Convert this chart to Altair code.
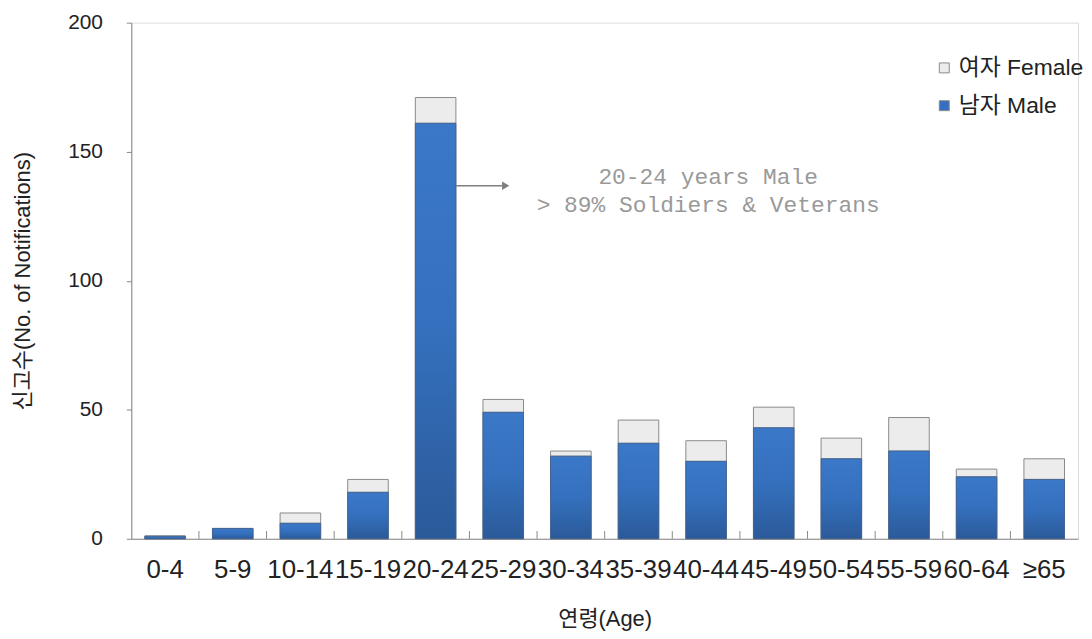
import altair as alt
import pandas as pd

ages = ["0-4", "5-9", "10-14", "15-19", "20-24", "25-29", "30-34", "35-39",
        "40-44", "45-49", "50-54", "55-59", "60-64", "≥65"]
male = [1, 4, 6, 18, 161, 49, 32, 37, 30, 43, 31, 34, 24, 23]
female = [0, 0, 4, 5, 10, 5, 2, 9, 8, 8, 8, 13, 3, 8]
sex_labels = ["여자 Female", "남자 Male"]
y_ticks = [0, 50, 100, 150, 200]
note_lines = ["20-24 years Male", "> 89% Soldiers & Veterans"]
x_title = "연령(Age)"
y_title = "신고수(No. of Notifications)"

rows = []
for a, m, f in zip(ages, male, female):
    rows.append({"age": a, "sex": sex_labels[1], "start": 0, "end": m})
    rows.append({"age": a, "sex": sex_labels[0], "start": m, "end": m + f})
long_df = pd.DataFrame(rows)
male_df = long_df[long_df["sex"] == sex_labels[1]]
tick_df = pd.DataFrame({"age": ages[1:], "lo": 0, "hi": 3})
note_df = pd.DataFrame({"k": [0]})

TXT_FONT = "Liberation Sans, Noto Sans CJK KR"

W, H = 952, 519
STEP = W / 14.0

xscale = alt.Scale(domain=ages, paddingInner=0.4, paddingOuter=0.2)
yscale = alt.Scale(domain=[0, 200])

x_enc = alt.X("age:N", scale=xscale, title=x_title,
              axis=alt.Axis(ticks=False, labelAngle=0, labelOverlap=False,
                            labelFontSize=26, labelFont=TXT_FONT, labelColor="#222",
                            labelPadding=18, titleFont=TXT_FONT, titleFontSize=22,
                            titleFontWeight="normal", titleColor="#222", titlePadding=26,
                            domainColor="#888"))
y_enc = alt.Y("start:Q", scale=yscale, title=y_title,
              axis=alt.Axis(values=y_ticks, grid=False, tickSize=5, tickColor="#888",
                            domainColor="#888", labelFontSize=21, labelFont=TXT_FONT,
                            labelColor="#222", labelPadding=24, titleFont=TXT_FONT,
                            titleFontSize=22, titleFontWeight="normal", titleColor="#222",
                            titlePadding=33))

base_bars = alt.Chart(long_df).mark_bar(stroke="#8a8a8a", strokeWidth=1).encode(
    x=x_enc,
    y=y_enc,
    y2="end:Q",
    color=alt.Color("sex:N", scale=alt.Scale(domain=sex_labels, range=["#ececec", "#3570c0"]),
                    legend=alt.Legend(title=None, orient="none", legendX=806, legendY=34,
                                      padding=0,
                                      symbolType="square", symbolSize=100,
                                      symbolStrokeColor="#8a8a8a", symbolStrokeWidth=1,
                                      labelFontSize=23, labelFont=TXT_FONT, labelColor="#222",
                                      labelOffset=3, rowPadding=14)),
)

grad = alt.Gradient(gradient="linear", x1=0, x2=0, y1=0, y2=1,
                    stops=[alt.GradientStop(color="#3b78c8", offset=0),
                           alt.GradientStop(color="#3470bd", offset=0.5),
                           alt.GradientStop(color="#2b5a99", offset=1)])
male_bars = alt.Chart(male_df).mark_bar(fill=grad, stroke="#3f5f8c", strokeWidth=0.8).encode(
    x=alt.X("age:N", scale=xscale),
    y=alt.Y("start:Q", scale=yscale),
    y2="end:Q",
)

xticks = alt.Chart(tick_df).mark_rule(color="#888", strokeWidth=1, xOffset=-0.2 * STEP).encode(
    x=alt.X("age:N", scale=xscale, bandPosition=0),
    y=alt.Y("lo:Q", scale=yscale),
    y2="hi:Q",
)

arrow = alt.Chart(note_df).mark_rule(color="#7f7f7f", strokeWidth=1.5).encode(
    x=alt.X(datum="20-24", scale=xscale, bandPosition=1.0),
    x2=alt.X2(datum="25-29", bandPosition=0.5),
    y=alt.Y(datum=136.8, scale=yscale),
)
arrow_head = alt.Chart(note_df).mark_point(shape="triangle-right", filled=True, color="#7f7f7f",
                                           size=70, opacity=1).encode(
    x=alt.X(datum="25-29", scale=xscale, bandPosition=0.56),
    y=alt.Y(datum=136.8, scale=yscale),
)
note = alt.Chart(note_df).mark_text(font="Liberation Mono", fontSize=23, color="#999999",
                                    lineHeight=28, align="center", baseline="middle",
                                    text=note_lines).encode(
    x=alt.X(datum="40-44", scale=xscale, bandPosition=0.55),
    y=alt.Y(datum=140.3, scale=yscale),
)

chart = alt.layer(base_bars, male_bars, xticks, arrow, arrow_head, note).properties(
    width=W, height=H, padding={"top": 2, "left": 3, "right": 0, "bottom": 0}
).configure_view(stroke=None).configure(background="white")

chart.save("out.html", embed_options={"renderer": "svg", "actions": False})
